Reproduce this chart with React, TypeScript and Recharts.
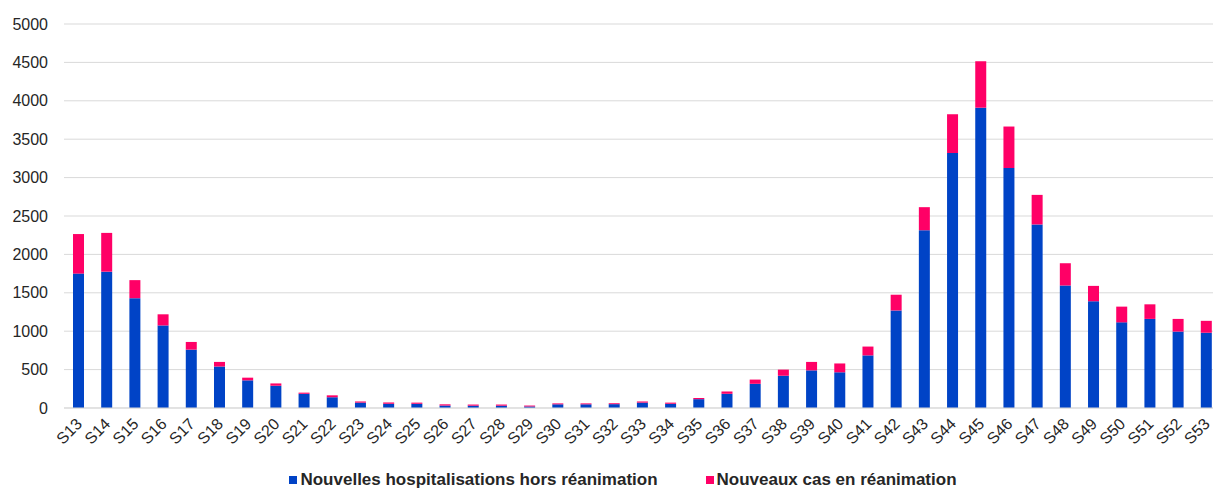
import { BarChart, Bar, XAxis, YAxis, CartesianGrid, Legend } from 'recharts'

// Semaines S13 à S53
const WEEKS = Array.from({ length: 41 }, (_, i) => `S${i + 13}`)

const HOSPITALISATIONS = [
    1750, 1775, 1430, 1075, 760, 540, 360, 290, 185, 140,
    70, 55, 55, 32, 30, 30, 20, 48, 48, 50,
    70, 55, 115, 185, 315, 420, 490, 465, 685, 1270,
    2315, 3320, 3910, 3125, 2390, 1595, 1390, 1115, 1160, 995,
    980,
]

const REANIMATION = [
    515, 505, 235, 145, 100, 60, 35, 30, 15, 25,
    15, 17, 15, 16, 15, 15, 12, 12, 12, 12,
    15, 15, 15, 30, 55, 80, 110, 115, 115, 205,
    300, 505, 605, 540, 385, 290, 200, 205, 190, 165,
    155,
]

const Y_TICKS = [0, 500, 1000, 1500, 2000, 2500, 3000, 3500, 4000, 4500, 5000]

const SERIES = [
    { key: 'hosp', label: 'Nouvelles hospitalisations hors réanimation', color: '#0043c6' },
    { key: 'rea', label: 'Nouveaux cas en réanimation', color: '#ff0066' },
]

const data = WEEKS.map((week, i) => ({
    week,
    hosp: HOSPITALISATIONS[i],
    rea: REANIMATION[i],
}))

const FONT = '"Liberation Sans", Arial, sans-serif'

function WeekTick({ x, y, payload }: any) {
    const tx = x + 5
    const ty = y + 9
    return (
        <text
            x={tx}
            y={ty}
            transform={`rotate(-45, ${tx}, ${ty})`}
            textAnchor="end"
            fontSize={16}
            fontFamily={FONT}
            fill="#262626"
        >
            {payload.value}
        </text>
    )
}

function LegendContent() {
    return (
        <div
            style={{
                display: 'flex',
                justifyContent: 'center',
                gap: 48,
                height: 16,
                alignItems: 'center',
                fontFamily: FONT,
                fontSize: 17,
                fontWeight: 'bold',
                color: '#262626',
                paddingLeft: 26,
            }}
        >
            {SERIES.map((s) => (
                <span key={s.key} style={{ display: 'flex', alignItems: 'center' }}>
                    <span style={{ width: 8, height: 8, background: s.color, marginRight: 3 }} />
                    {s.label}
                </span>
            ))}
        </div>
    )
}

export default function App() {
    return (
        <div style={{ position: 'absolute', left: 0, top: 0, width: 1213, height: 488, overflow: 'hidden', background: '#fff' }}>
            <BarChart
                width={1222}
                height={488}
                data={data}
                margin={{ top: 24, right: 2, left: 0, bottom: 0 }}
            >
                <CartesianGrid vertical={false} stroke="#d9d9d9" />
                <XAxis
                    dataKey="week"
                    interval={0}
                    height={64}
                    tickLine={false}
                    axisLine={{ stroke: '#d9d9d9' }}
                    tick={<WeekTick />}
                />
                <YAxis
                    width={64}
                    domain={[0, 5000]}
                    ticks={Y_TICKS}
                    tickLine={false}
                    axisLine={false}
                    tickSize={8}
                    tickMargin={8}
                    tick={{ fontSize: 16, fontFamily: FONT, fill: '#262626' }}
                />
                <Legend verticalAlign="bottom" content={<LegendContent />} />
                {SERIES.map((s) => (
                    <Bar
                        key={s.key}
                        dataKey={s.key}
                        name={s.label}
                        stackId="a"
                        fill={s.color}
                        barSize={11}
                        isAnimationActive={false}
                    />
                ))}
            </BarChart>
        </div>
    )
}
